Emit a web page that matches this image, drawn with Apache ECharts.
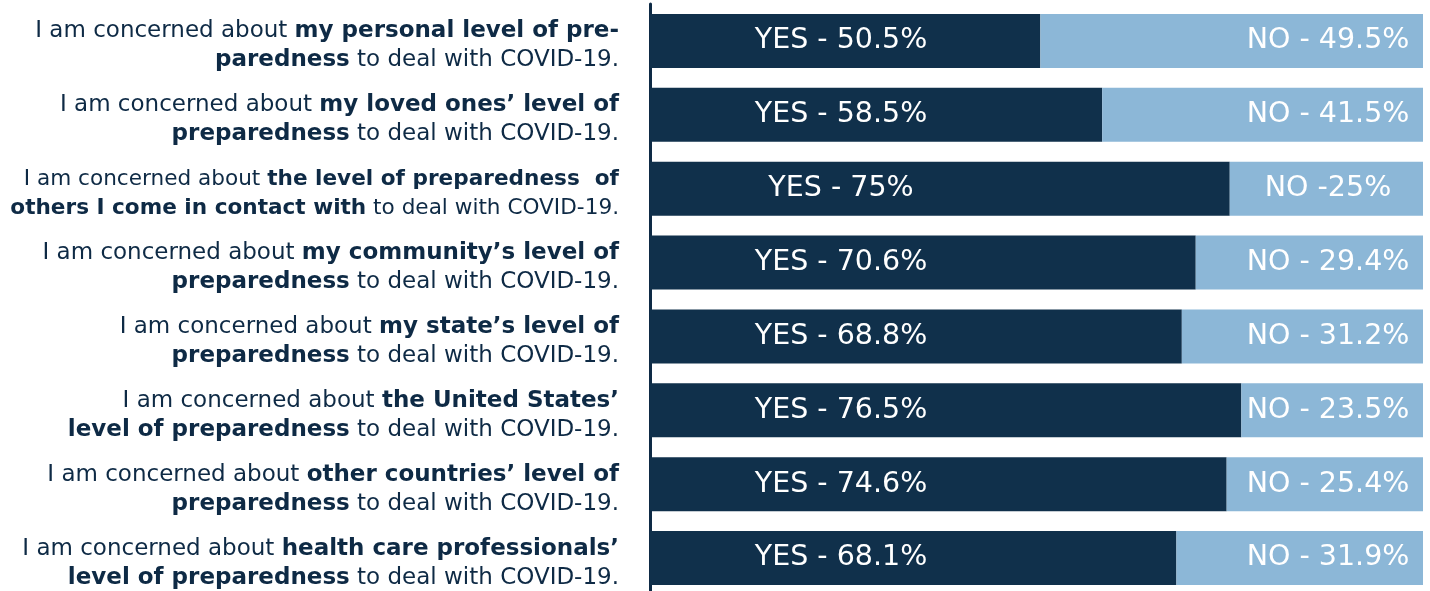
<!DOCTYPE html>
<html>
<head>
<meta charset="utf-8">
<title>COVID-19 preparedness concern</title>
<script src="https://cdn.jsdelivr.net/npm/echarts@6/dist/echarts.min.js"></script>
<style>
  html, body { margin: 0; padding: 0; background: #fff; }
  #main { width: 1430px; height: 591px; }
</style>
</head>
<body>
<div id="main"></div>
<script>
// category labels, two lines each, {b|...} marks the bold part
// (row 3 is set a bit tighter in the original, so it gets the c / cb styles)
var line1 = [
  'I am concerned about {b|my personal level of pre-}',
  'I am concerned about {b|my loved ones\u2019 level of}',
  '{c|I am concerned about }{cb|the level of preparedness  of}',
  'I am concerned about {b|my community\u2019s level of}',
  'I am concerned about {b|my state\u2019s level of}',
  'I am concerned about {b|the United States\u2019}',
  'I am concerned about {b|other countries\u2019 level of}',
  'I am concerned about {b|health care professionals\u2019}'
];
var line2 = [
  '{b|paredness} to deal with COVID-19.',
  '{b|preparedness} to deal with COVID-19.',
  '{cb|others I come in contact with}{c| to deal with COVID-19.}',
  '{b|preparedness} to deal with COVID-19.',
  '{b|preparedness} to deal with COVID-19.',
  '{b|level of preparedness} to deal with COVID-19.',
  '{b|preparedness} to deal with COVID-19.',
  '{b|level of preparedness} to deal with COVID-19.'
];
var yesVals = [50.5, 58.5, 75, 70.6, 68.8, 76.5, 74.6, 68.1];
var noVals  = [49.5, 41.5, 25, 29.4, 31.2, 23.5, 25.4, 31.9];
var yesText = ['YES - 50.5%', 'YES - 58.5%', 'YES - 75%', 'YES - 70.6%', 'YES - 68.8%', 'YES - 76.5%', 'YES - 74.6%', 'YES - 68.1%'];
var noText  = ['NO - 49.5%', 'NO - 41.5%', 'NO -25%', 'NO - 29.4%', 'NO - 31.2%', 'NO - 23.5%', 'NO - 25.4%', 'NO - 31.9%'];

var categories = line1.map(function (l, i) { return l + '\n' + line2[i]; });

var dark = '#10304b';
var light = '#8cb7d7';
var textCol = '#0e2a45';
var labelFont = 'DejaVu Sans';

var chart = echarts.init(document.getElementById('main'));
chart.setOption({
  animation: false,
  grid: { left: 650, right: 7, top: 4, bottom: -4, containLabel: false, outerBoundsMode: 'none' },
  xAxis: {
    type: 'value', min: 0, max: 100,
    show: false
  },
  yAxis: {
    type: 'category',
    inverse: true,
    data: categories,
    axisTick: { show: false },
    axisLine: { show: true, lineStyle: { color: textCol, width: 3 } },
    axisLabel: {
      margin: 31,
      align: 'right',
      lineHeight: 29,
      padding: [10, 0, 0, 0],
      fontFamily: labelFont,
      fontSize: 23,
      color: textCol,
      rich: {
        b: { fontFamily: labelFont, fontWeight: 'bold', fontSize: 23, color: textCol, lineHeight: 29 },
        c: { fontFamily: labelFont, fontSize: 21.6, color: textCol, lineHeight: 29 },
        cb: { fontFamily: labelFont, fontWeight: 'bold', fontSize: 21.6, color: textCol, lineHeight: 29 }
      }
    }
  },
  series: [
    {
      name: 'YES', type: 'bar', stack: 'all', barWidth: 54,
      itemStyle: { color: dark },
      data: yesVals,
      label: {
        show: true, position: 'insideLeft', distance: 191, align: 'center',
        color: '#fff', fontFamily: labelFont, fontSize: 28.5,
        formatter: function (p) { return yesText[p.dataIndex]; }
      }
    },
    {
      name: 'NO', type: 'bar', stack: 'all', barWidth: 54,
      itemStyle: { color: light },
      data: noVals,
      label: {
        show: true, position: 'insideRight', distance: 95, align: 'center',
        color: '#fff', fontFamily: labelFont, fontSize: 28.5,
        formatter: function (p) { return noText[p.dataIndex]; }
      }
    }
  ]
});
</script>
</body>
</html>
